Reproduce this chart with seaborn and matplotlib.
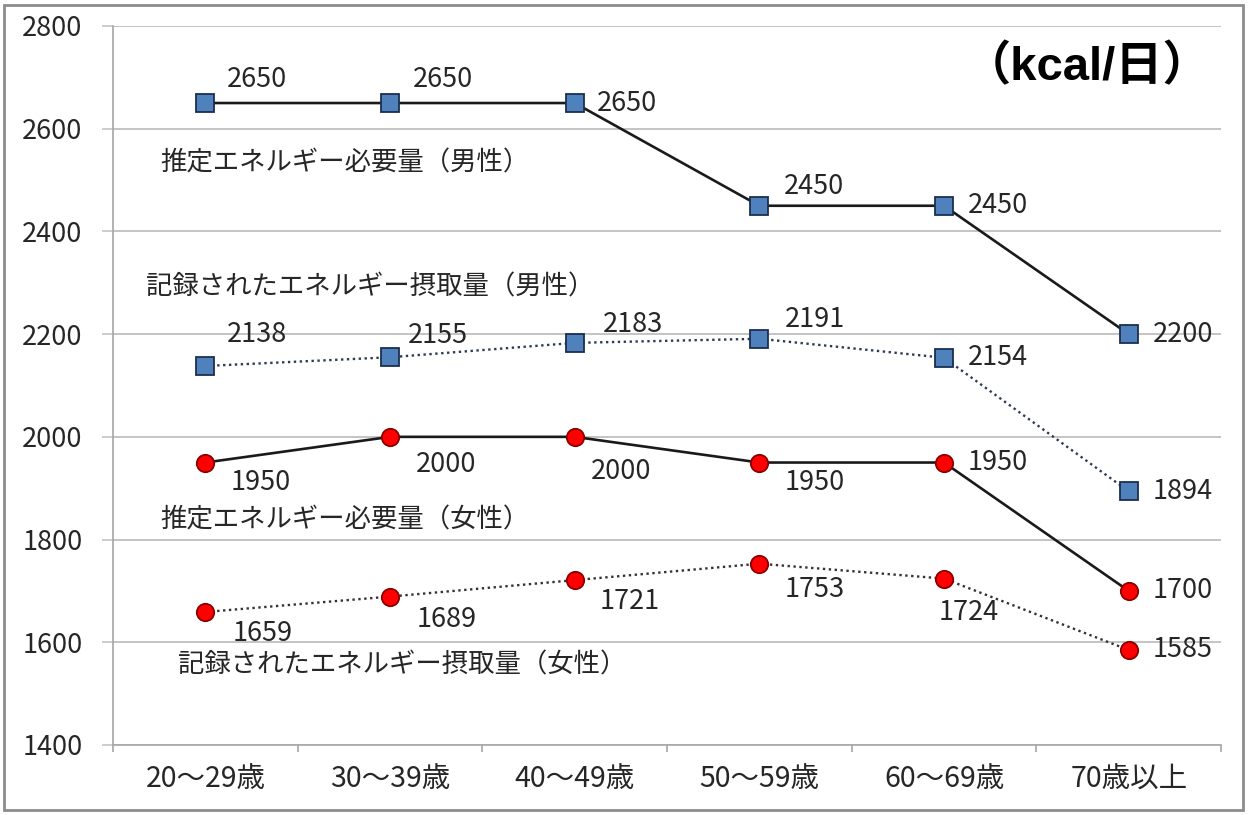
import numpy as np
import pandas as pd
import matplotlib
matplotlib.use("Agg")
import matplotlib.pyplot as plt
from matplotlib.patches import Rectangle
from matplotlib.ticker import FixedLocator
import seaborn as sns

# Age groups and energy values (kcal/day)
age_groups = ["20〜29歳", "30〜39歳", "40〜49歳", "50〜59歳", "60〜69歳", "70歳以上"]
male_required = [2650, 2650, 2650, 2450, 2450, 2200]
male_intake = [2138, 2155, 2183, 2191, 2154, 1894]
female_required = [1950, 2000, 2000, 1950, 1950, 1700]
female_intake = [1659, 1689, 1721, 1753, 1724, 1585]

series_names = [
    "推定エネルギー必要量（男性）",
    "記録されたエネルギー摂取量（男性）",
    "推定エネルギー必要量（女性）",
    "記録されたエネルギー摂取量（女性）",
]
unit_label = "（kcal/日）"
y_ticks = [1400, 1600, 1800, 2000, 2200, 2400, 2600, 2800]

sns.set_theme(style="white")
plt.rcParams["font.family"] = ["Noto Sans CJK JP", "DejaVu Sans"]

fig = plt.figure(figsize=(12.49, 8.15), dpi=100)
ax = fig.add_axes([0.0905, 0.0859, 0.8871, 0.8822])

BLUE = "#4f81bd"
BLUE_EDGE = "#1c2f4f"
RED = "#ff0000"
RED_EDGE = "#8a0000"
TEXT = "#262626"
FS = 19.5

frames = {
    "male_required": pd.DataFrame({"age": age_groups, "kcal": male_required}),
    "male_intake": pd.DataFrame({"age": age_groups, "kcal": male_intake}),
    "female_required": pd.DataFrame({"age": age_groups, "kcal": female_required}),
    "female_intake": pd.DataFrame({"age": age_groups, "kcal": female_intake}),
}

dotted = (0, (1, 1.5))
styles = {
    "male_required": dict(color="#1a1a1a", linestyle="-", linewidth=1.9, marker="s",
                          markerfacecolor=BLUE, markeredgecolor=BLUE_EDGE),
    "male_intake": dict(color="#2b3a55", linestyle=dotted, linewidth=1.7, marker="s",
                        markerfacecolor=BLUE, markeredgecolor=BLUE_EDGE),
    "female_required": dict(color="#1a1a1a", linestyle="-", linewidth=1.9, marker="o",
                            markerfacecolor=RED, markeredgecolor=RED_EDGE),
    "female_intake": dict(color="#3a2f2f", linestyle=dotted, linewidth=1.7, marker="o",
                          markerfacecolor=RED, markeredgecolor=RED_EDGE),
}

for key in ["female_intake", "female_required", "male_intake", "male_required"]:
    sns.lineplot(data=frames[key], x="age", y="kcal", ax=ax, sort=False,
                 markersize=12.5, markeredgewidth=1.3, **styles[key])

# Value labels: (dx, dy) offsets in pixels and horizontal alignment
label_offsets = {
    "male_required": [(52, 24, "center"), (53, 24, "center"), (22, 0, "left"),
                      (55, 19, "center"), (24, 0, "left"), (24, 0, "left")],
    "male_intake": [(52, 31, "center"), (48, 22, "center"), (58, 18, "center"),
                    (56, 19, "center"), (24, 0, "left"), (24, 0, "left")],
    "female_required": [(55, -20, "center"), (56, -28, "center"), (46, -35, "center"),
                        (55, -20, "center"), (24, 0, "left"), (24, 0, "left")],
    "female_intake": [(57, -22, "center"), (57, -23, "center"), (55, -21, "center"),
                      (55, -26, "center"), (25, -34, "center"), (24, 0, "left")],
}
values = {
    "male_required": male_required,
    "male_intake": male_intake,
    "female_required": female_required,
    "female_intake": female_intake,
}
for key, vals in values.items():
    for i, (v, (dx, dy, ha)) in enumerate(zip(vals, label_offsets[key])):
        ax.annotate(str(v), xy=(i, v), xytext=(dx, dy), textcoords="offset pixels",
                    ha=ha, va="center", fontsize=FS, color=TEXT)

# Series names placed next to their lines
name_pos = [(-0.243, 2533), (-0.324, 2292), (-0.243, 1838), (-0.146, 1556)]
for name, (x, y) in zip(series_names, name_pos):
    ax.text(x, y, name, ha="left", va="center", fontsize=19, color=TEXT)

ax.text(0.879, 0.942, unit_label, transform=ax.transAxes, ha="center", va="center",
        fontsize=34, fontweight="bold", color="black",
        family=["Liberation Sans", "Noto Sans CJK JP"])

ax.set_xlim(-0.5, 5.5)
ax.set_ylim(1400, 2800)
ax.set_yticks(y_ticks)
ax.set_xticks(range(len(age_groups)))
ax.set_xticklabels(age_groups)
ax.xaxis.set_minor_locator(FixedLocator(np.arange(-0.5, 6, 1.0)))
ax.set_xlabel("")
ax.set_ylabel("")

ax.grid(axis="y", color="#c4c4c4", linewidth=1.4)
ax.set_axisbelow(True)
for side in ["top", "right"]:
    ax.spines[side].set_visible(False)
for side in ["left", "bottom"]:
    ax.spines[side].set_color("#a6a6a6")
    ax.spines[side].set_linewidth(1.2)

ax.tick_params(axis="y", which="major", length=8, width=1.2, color="#c4c4c4",
               left=True, pad=14, labelsize=FS, labelcolor=TEXT)
ax.tick_params(axis="x", which="major", length=0, pad=14, labelsize=20.5, labelcolor=TEXT)
ax.tick_params(axis="x", which="minor", length=5, width=1.2, color="#a6a6a6", bottom=True)

# Outer frame around the figure
fig.patches.append(Rectangle((4 / 1249, 5 / 815), 1239 / 1249, 805 / 815,
                             transform=fig.transFigure, fill=False,
                             edgecolor="#8c8c8c", linewidth=2))

fig.savefig("out.png", dpi=100)
